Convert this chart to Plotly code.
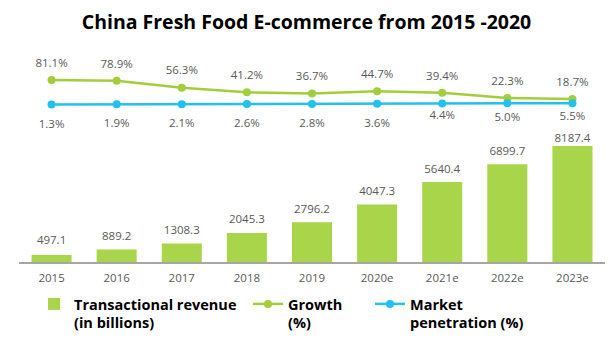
import plotly.graph_objects as go

years = ["2015", "2016", "2017", "2018", "2019", "2020e", "2021e", "2022e", "2023e"]
revenue = [497.1, 889.2, 1308.3, 2045.3, 2796.2, 4047.3, 5640.4, 6899.7, 8187.4]
growth = [81.1, 78.9, 56.3, 41.2, 36.7, 44.7, 39.4, 22.3, 18.7]
penetration = [1.3, 1.9, 2.1, 2.6, 2.8, 3.6, 4.4, 5.0, 5.5]

rev_text = [f"{v:.1f}" for v in revenue]
growth_text = [f"{v:.1f}%" for v in growth]
pen_text = [f"{v:.1f}%" for v in penetration]

# label offsets (invisible marker sizes, style only)
rev_gap = [11.2, 9.6, 9.6, 9.6, 8.5, 9.6, 8.5, 8.5, 0.4]
pen_gap = [21.6, 21.6, 21.6, 21.6, 21.6, 21.6, 9.6, 13.6, 11.2]

BAR = "#A9D54A"
GREEN = "#A3CE3C"
BLUE = "#22C1EF"
GRAY = "#595959"
FONT = "Open Sans"

# the page body adds an 8px margin; figure is sized to fit the 613x358 window
W, H = 597, 342

fig = go.Figure()

fig.add_trace(go.Bar(
    x=years, y=revenue, marker=dict(color=BAR, line=dict(width=0)),
    name="Transactional revenue<br>(in billions)", legend="legend",
    hoverinfo="x+y",
))
fig.add_trace(go.Scatter(
    x=years, y=revenue, text=rev_text, mode="markers+text",
    textposition="top center", textfont=dict(size=11.5, color=GRAY, family=FONT),
    marker=dict(size=rev_gap, opacity=0), showlegend=False, hoverinfo="skip",
))

fig.add_trace(go.Scatter(
    x=years, y=growth, mode="lines+markers", yaxis="y2",
    line=dict(color=GREEN, width=2.5), marker=dict(color=GREEN, size=8),
    name="Growth<br>(%)", legend="legend2",
))
fig.add_trace(go.Scatter(
    x=years, y=growth, text=growth_text, mode="markers+text", yaxis="y2",
    textposition="top center", textfont=dict(size=11.5, color=GRAY, family=FONT),
    marker=dict(size=15, opacity=0), showlegend=False, hoverinfo="skip",
))

fig.add_trace(go.Scatter(
    x=years, y=penetration, mode="lines+markers", yaxis="y2",
    line=dict(color=BLUE, width=2.5), marker=dict(color=BLUE, size=8),
    name="Market<br>penetration (%)", legend="legend3",
))
fig.add_trace(go.Scatter(
    x=years, y=penetration, text=pen_text, mode="markers+text", yaxis="y2",
    textposition="bottom center", textfont=dict(size=11.5, color=GRAY, family=FONT),
    marker=dict(size=pen_gap, opacity=0), showlegend=False, hoverinfo="skip",
))

legend_common = dict(
    orientation="v", xanchor="left", yanchor="top", valign="top",
    font=dict(family=FONT, size=14.5, color="#000000", weight="bold"),
    bgcolor="rgba(0,0,0,0)", borderwidth=0, itemwidth=30,
)

fig.update_layout(
    width=W, height=H,
    paper_bgcolor="white", plot_bgcolor="white",
    margin=dict(l=11, r=0, t=32, b=88, autoexpand=False),
    font=dict(family=FONT, color=GRAY),
    title=dict(
        text="China Fresh Food E-commerce from 2015 -2020",
        x=0.5, xref="container", xanchor="center",
        y=1 - 14 / H, yref="container", yanchor="middle",
        font=dict(family=FONT, size=19.5, color="#000000", weight="bold"),
    ),
    bargap=0.385,
    xaxis=dict(
        type="category", range=[-0.5, len(years) - 0.5],
        showgrid=False, zeroline=False,
        showline=True, linecolor="#A6A6A6", linewidth=1.5,
        ticks="", tickfont=dict(size=11.5, color=GRAY, family=FONT),
        ticklabelstandoff=4, fixedrange=True,
    ),
    yaxis=dict(visible=False, range=[0, 15656], fixedrange=True),
    yaxis2=dict(visible=False, overlaying="y", range=[-515.4, 212.5], fixedrange=True),
    legend=dict(x=(34 - 19) / 586, y=-0.117, **legend_common),
    legend2=dict(x=(248 - 19) / 586, y=-0.117, **legend_common),
    legend3=dict(x=(370 - 19) / 586, y=-0.117, **legend_common),
    showlegend=True,
)

fig.write_html("out.html")
